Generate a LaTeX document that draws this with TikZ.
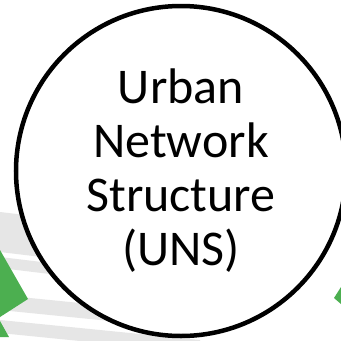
\documentclass[tikz,border=0pt]{standalone}
\usepackage{fontspec}
\setmainfont{Carlito}
\usepackage{xcolor}
\definecolor{stripegray}{RGB}{230,230,230}
\definecolor{arrowgreen}{RGB}{76,175,80}

\begin{document}
\begin{tikzpicture}[x=1pt, y=-1pt,
    band/.style={fill=stripegray, draw=none},
    tip/.style={fill=arrowgreen, draw=none},
    bigcircle/.style={circle, draw, line width=4.5pt, fill=white, minimum size=330pt, inner sep=0pt, align=center, font=\fontsize{50}{54}\selectfont}]
  \useasboundingbox (0,0) rectangle (341,341);
  \fill[white] (0,0) rectangle (341,341);
  % grey stripes behind the circle
  \fill[band] (0,212) -- (200,236) -- (200,276) -- (0,252) -- cycle;
  \fill[band] (0,257) -- (200,281) -- (200,292) -- (0,268) -- cycle;
  \fill[band] (0,295) -- (200,315) -- (200,330) -- (0,310) -- cycle;
  \fill[band] (0,320) -- (200,340) -- (200,353) -- (0,333) -- cycle;
  % green tips
  \fill[tip] (0,250) -- (28,299) -- (0,317) -- cycle;
  \fill[tip] (0,321) -- (9,337) -- (0,337) -- cycle;
  \fill[tip] (334,298) -- (341,287) -- (341,304) -- cycle;
  \node[bigcircle] (uns) at (181,171) {Urban\\Network\\Structure\\(UNS)};
\end{tikzpicture}
\end{document}
